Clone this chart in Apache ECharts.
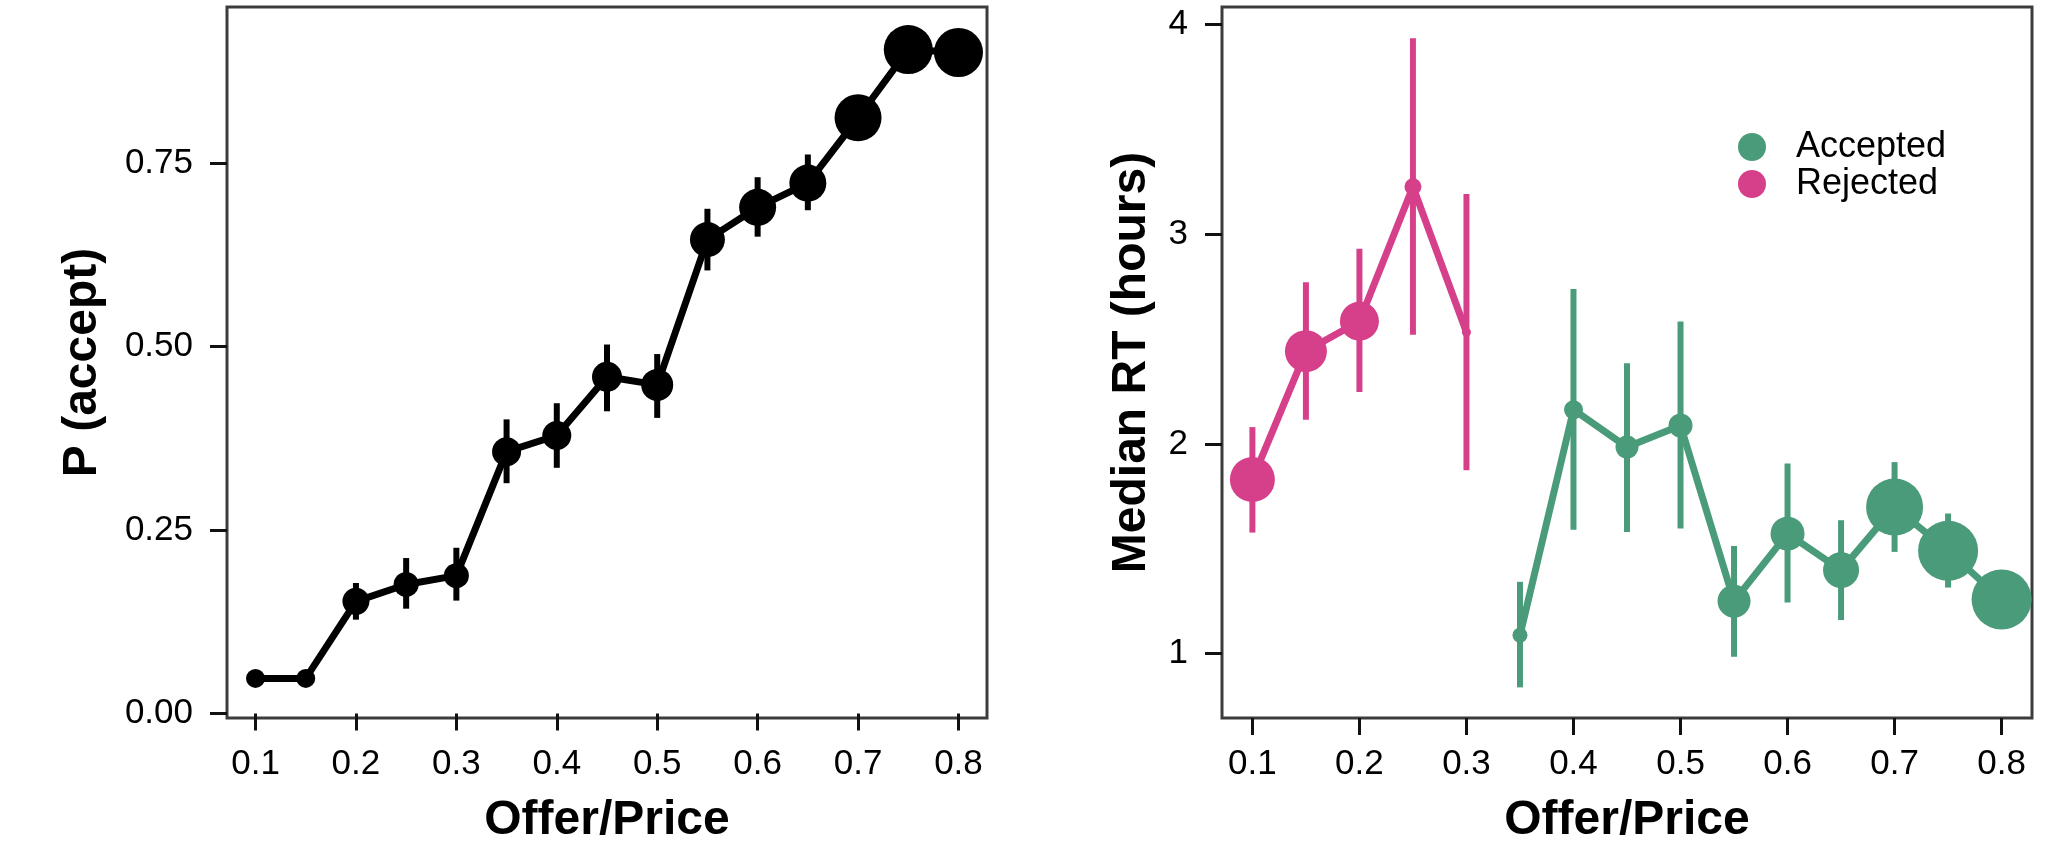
<!DOCTYPE html>
<html>
<head>
<meta charset="utf-8">
<script src="https://cdn.jsdelivr.net/npm/echarts@6/dist/echarts.min.js"></script>
<style>
html,body{margin:0;padding:0;background:#fff;}
#chart{width:2058px;height:854px;}
</style>
</head>
<body>
<div id="chart"></div>
<script>
// ---- data ----
const offers = [0.1,0.15,0.2,0.25,0.3,0.35,0.4,0.45,0.5,0.55,0.6,0.65,0.7,0.75,0.8];
const xTicks = [0.1,0.2,0.3,0.4,0.5,0.6,0.7,0.8];
const pTicks = [0,0.25,0.5,0.75];
const rtTicks = [1,2,3,4];

const pAccept = [0.048,0.048,0.153,0.176,0.188,0.357,0.379,0.459,0.448,0.646,0.690,0.723,0.812,0.905,0.901];
const pLow    = [0.038,0.038,0.128,0.143,0.154,0.314,0.335,0.412,0.403,0.604,0.650,0.686,0.790,0.890,0.886];
const pHigh   = [0.058,0.058,0.178,0.212,0.226,0.401,0.423,0.503,0.490,0.688,0.731,0.762,0.834,0.920,0.916];
const pSymbol = [19,19,27,25,25,29,29,30,32,35,37,37,47,49,49];

const rejOffers = [0.1,0.15,0.2,0.25,0.3];
const rejRT     = [1.830,2.442,2.585,3.226,2.532];
const rejLow    = [1.577,2.115,2.247,2.520,1.874];
const rejHigh   = [2.080,2.771,2.930,3.934,3.191];
const rejSymbol = [45,42,39,17,9];

const accOffers = [0.35,0.4,0.45,0.5,0.55,0.6,0.65,0.7,0.75,0.8];
const accRT     = [1.088,2.163,1.985,2.088,1.250,1.572,1.398,1.699,1.490,1.258];
const accLow    = [0.839,1.591,1.580,1.596,0.985,1.244,1.160,1.485,1.315,1.150];
const accHigh   = [1.342,2.739,2.385,2.583,1.513,1.906,1.636,1.913,1.668,1.360];
const accSymbol = [15,19,23,24,33,34,36,57,60,60];

// ---- styles ----
const FONT = 'Liberation Sans';
const BLACK = '#000000';
const PINK = '#D6408A';
const GREEN = '#4A9B79';
const LW = 7;

function zip(xs, ys){ return xs.map((x,i)=>[x, ys[i]]); }
function zip3(xs, a, b){ return xs.map((x,i)=>[x, a[i], b[i]]); }

function errSeries(xi, yi, data, color){
  return {
    type:'custom', xAxisIndex:xi, yAxisIndex:yi, z:1,
    data:data, encode:{x:0, y:[1,2]},
    renderItem:function(params, api){
      const p1 = api.coord([api.value(0), api.value(1)]);
      const p2 = api.coord([api.value(0), api.value(2)]);
      return {type:'line', shape:{x1:p1[0], y1:p1[1], x2:p2[0], y2:p2[1]},
              style:{stroke:color, lineWidth:6}};
    },
    silent:true
  };
}
function lineSeries(xi, yi, name, data, sizes, color){
  return {
    type:'line', name:name, xAxisIndex:xi, yAxisIndex:yi, z:2,
    data:data, symbol:'circle',
    symbolSize:function(v, p){ return sizes[p.dataIndex]; },
    showSymbol:true,
    lineStyle:{color:color, width:LW},
    itemStyle:{color:color},
    emphasis:{disabled:true},
    animation:false
  };
}

const xAxisBase = {
  type:'value', min:0.0716, max:0.8284,
  axisLine:{show:false},
  axisTick:{show:true, length:17, lineStyle:{color:'#111', width:3}, customValues:xTicks},
  axisLabel:{color:'#000', fontFamily:FONT, fontSize:35, margin:29, customValues:xTicks,
             formatter:function(v){ return v.toFixed(1); }},
  splitLine:{show:false},
  name:'Offer/Price', nameLocation:'middle', nameGap:79,
  nameTextStyle:{color:'#000', fontFamily:FONT, fontSize:48, fontWeight:'bold'}
};

const option = {
  backgroundColor:'#fff',
  animation:false,
  grid:[
    {left:227, top:7, width:760, height:711, show:true, borderColor:'#3c3c3c', borderWidth:3, backgroundColor:'transparent'},
    {left:1222, top:7, width:810, height:711, show:true, borderColor:'#3c3c3c', borderWidth:3, backgroundColor:'transparent'}
  ],
  legend:{
    orient:'vertical', left:1733, top:124, itemWidth:28, itemHeight:28, itemGap:1,
    icon:'circle',
    data:['Accepted','Rejected'],
    textStyle:{color:'#000', fontFamily:FONT, fontSize:36, lineHeight:36, padding:[0,0,0,25]}
  },
  xAxis:[
    Object.assign({}, xAxisBase, {gridIndex:0}),
    Object.assign({}, xAxisBase, {gridIndex:1})
  ],
  yAxis:[
    {
      type:'value', gridIndex:0, min:-0.006, max:0.963,
      axisLine:{show:false},
      axisTick:{show:true, length:17, lineStyle:{color:'#111', width:3}, customValues:pTicks},
      axisLabel:{color:'#000', fontFamily:FONT, fontSize:35, margin:34, customValues:pTicks,
                 formatter:function(v){ return v.toFixed(2); }},
      splitLine:{show:false},
      name:'P (accept)', nameLocation:'middle', nameGap:120,
      nameTextStyle:{color:'#000', fontFamily:FONT, fontSize:48, fontWeight:'bold'}
    },
    {
      type:'value', gridIndex:1, min:0.693, max:4.083,
      axisLine:{show:false},
      axisTick:{show:true, length:17, lineStyle:{color:'#111', width:3}, customValues:rtTicks},
      axisLabel:{color:'#000', fontFamily:FONT, fontSize:35, margin:34, customValues:rtTicks,
                 formatter:function(v){ return String(Math.round(v)); }},
      splitLine:{show:false},
      name:'Median RT (hours)', nameLocation:'middle', nameGap:66,
      nameTextStyle:{color:'#000', fontFamily:FONT, fontSize:48, fontWeight:'bold'}
    }
  ],
  series:[
    errSeries(0,0, zip3(offers, pLow, pHigh), BLACK),
    lineSeries(0,0,'P', zip(offers, pAccept), pSymbol, BLACK),
    errSeries(1,1, zip3(rejOffers, rejLow, rejHigh), PINK),
    errSeries(1,1, zip3(accOffers, accLow, accHigh), GREEN),
    lineSeries(1,1,'Rejected', zip(rejOffers, rejRT), rejSymbol, PINK),
    lineSeries(1,1,'Accepted', zip(accOffers, accRT), accSymbol, GREEN)
  ]
};

const chart = echarts.init(document.getElementById('chart'), null, {renderer:'canvas'});
chart.setOption(option);
</script>
</body>
</html>
